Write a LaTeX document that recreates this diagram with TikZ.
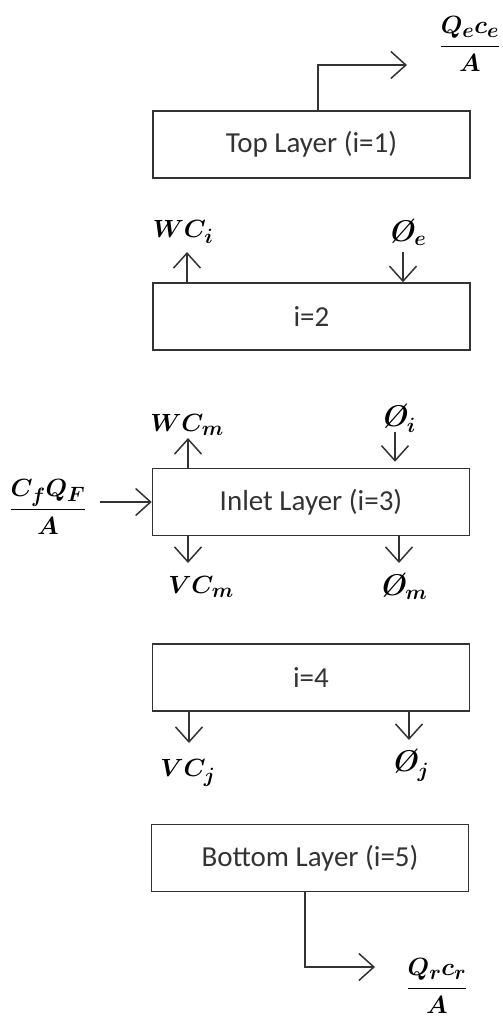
\documentclass[tikz,border=0pt]{standalone}
\usepackage{amsmath}
\usepackage{fontspec}
\newfontfamily\layerfont{Carlito}
\usetikzlibrary{arrows.meta,calc}

\begin{document}
\begin{tikzpicture}[x=1pt, y=-1pt, line width=1.5pt,
  layer/.style={draw=black!80, minimum width=317pt, minimum height=67pt, inner sep=0pt,
    text=black!80, font=\layerfont\fontsize{29}{34}\selectfont},
  flow/.style={draw=black!80, -{Straight Barb[length=15pt,width=27pt]}},
  qty/.style={inner sep=0pt, font=\fontsize{30}{34}\selectfont\boldmath\bfseries\itshape}]
  \useasboundingbox (0,0) rectangle (503,1026);
  \node[layer] (top) at (311.5,144.5) {Top Layer (i=1)};
  \node[layer] (l2) at (311.5,316.5) {i=2};
  \node[layer] (inlet) at (311,502) {Inlet Layer (i=3)};
  \node[layer] (l4) at (311,677.5) {i=4};
  \node[layer] (bottom) at (310,858) {Bottom Layer (i=5)};
  \node[qty] (qe) at (470,44) {$\dfrac{Q_e c_e}{A}$};
  \node[qty] (wci) at (183,232) {$WC_i$};
  \node[qty] (phie) at (407,232) {Ø$_e$};
  \node[qty] (wcm) at (187,425) {$WC_m$};
  \node[qty] (phii) at (398,418) {Ø$_i$};
  \node[qty] (cfqf) at (48,507) {$\dfrac{C_f Q_F}{A}$};
  \node[qty] (vcm) at (201,587) {$VC_m$};
  \node[qty] (phim) at (403,586) {Ø$_m$};
  \node[qty] (vcj) at (188,773) {$VC_j$};
  \node[qty] (phij) at (410,765) {Ø$_j$};
  \node[qty] (qr) at (437,986) {$\dfrac{Q_r c_r}{A}$};
  \coordinate (eout) at (407,65);
  \coordinate (wciend) at (187,252);
  \coordinate (phiein) at (403,252);
  \coordinate (wcmend) at (188,438);
  \coordinate (phiiin) at (395,432);
  \coordinate (feed) at (100,502);
  \coordinate (vcmend) at (188,563);
  \coordinate (phimend) at (399,563);
  \coordinate (vcjend) at (189,743);
  \coordinate (phijend) at (409,740);
  \coordinate (rout) at (375,967);
  \draw[flow] ([xshift=6.5pt]top.north) |- (eout);
  \draw[flow] (l2.north -| wciend) -- (wciend);
  \draw[flow] (phiein) -- (phiein |- l2.north);
  \draw[flow] (inlet.north -| wcmend) -- (wcmend);
  \draw[flow, shorten >=6pt] (phiiin) -- (phiiin |- inlet.north);
  \draw[flow] (feed) -- (inlet.west);
  \draw[flow] (inlet.south -| vcmend) -- (vcmend);
  \draw[flow] (inlet.south -| phimend) -- (phimend);
  \draw[flow] (l4.south -| vcjend) -- (vcjend);
  \draw[flow] (l4.south -| phijend) -- (phijend);
  \draw[flow] ([xshift=-5pt]bottom.south) |- (rout);
\end{tikzpicture}
\end{document}
